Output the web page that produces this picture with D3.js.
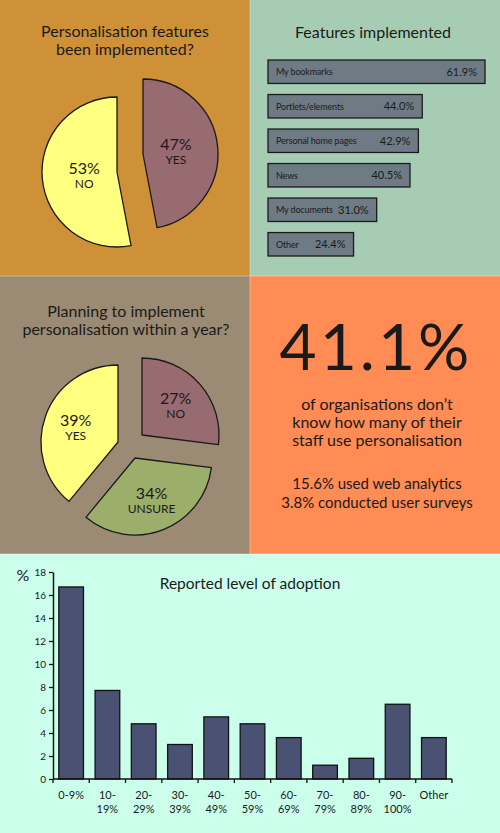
<!DOCTYPE html>
<html lang="en">
<head>
<meta charset="UTF-8">
<script src="https://d3js.org/d3.v7.min.js"></script>
<title>Personalisation survey</title>
<style>
  body { margin: 0; background: #fff; }
  svg { display: block; font-family: Lato, "Open Sans", sans-serif; }
  text { fill: #1a1a1a; }
</style>
</head>
<body>
<svg width="500" height="833"></svg>
<script>
// pie 1: have personalisation features been implemented?
var implLabels = ["YES", "NO"];
var implValues = [47, 53];

// bar list: features implemented (%)
var featureNames = ["My bookmarks", "Portlets/elements", "Personal home pages", "News", "My documents", "Other"];
var featureValues = [61.9, 44.0, 42.9, 40.5, 31.0, 24.4];

// pie 2: planning within a year?
var planLabels = ["NO", "UNSURE", "YES"];
var planValues = [27, 34, 39];

// headline stat
var headline = "41.1%";
var headlineLines = ["of organisations don\u2019t", "know how many of their", "staff use personalisation"];
var subLines = ["15.6% used web analytics", "3.8% conducted user surveys"];

// bottom chart: reported level of adoption (%)
var adoptionCats = ["0-9%", "10-|19%", "20-|29%", "30-|39%", "40-|49%", "50-|59%", "60-|69%", "70-|79%", "80-|89%", "90-|100%", "Other"];
var adoptionValues = [16.7, 7.7, 4.8, 3.0, 5.4, 4.8, 3.6, 1.2, 1.8, 6.5, 3.6];
var adoptionTicks = [0, 2, 4, 6, 8, 10, 12, 14, 16, 18];

var svg = d3.select("svg");

// background panels
var panels = [
  {x: 0, y: 0, w: 250, h: 276, fill: "#ce9137"},
  {x: 250, y: 0, w: 250, h: 276, fill: "#a6cdb3"},
  {x: 0, y: 276, w: 250, h: 278, fill: "#9b8b74"},
  {x: 250, y: 276, w: 250, h: 278, fill: "#ff8b55"},
  {x: 0, y: 554, w: 500, h: 279, fill: "#ccffeb"}
];
svg.selectAll("rect.panel").data(panels).enter().append("rect")
  .attr("class", "panel")
  .attr("x", d => d.x).attr("y", d => d.y)
  .attr("width", d => d.w).attr("height", d => d.h)
  .attr("fill", d => d.fill);
svg.append("line").attr("x1", 250).attr("x2", 250).attr("y1", 0).attr("y2", 554)
  .attr("stroke", "#fff").attr("stroke-opacity", 0.35);
svg.append("line").attr("x1", 0).attr("x2", 500).attr("y1", 276).attr("y2", 276)
  .attr("stroke", "#fff").attr("stroke-opacity", 0.35);
svg.append("line").attr("x1", 0).attr("x2", 500).attr("y1", 554).attr("y2", 554)
  .attr("stroke", "#fff").attr("stroke-opacity", 0.35);

function titleLines(lines, cx, y0, lh, size) {
  lines.forEach(function(t, i) {
    svg.append("text").attr("x", cx).attr("y", y0 + i * lh)
      .attr("text-anchor", "middle").attr("font-size", size).text(t);
  });
}

// exploded pie helper
function drawPie(labels, values, colours, cx, cy, r, offsets, labelR) {
  var pie = d3.pie().sort(null);
  var arc = d3.arc().innerRadius(0).outerRadius(r);
  var labelArc = d3.arc().innerRadius(labelR).outerRadius(labelR);
  var g = svg.append("g").attr("transform", "translate(" + cx + "," + cy + ")");
  var slices = g.selectAll("g.slice").data(pie(values)).enter().append("g")
    .attr("class", "slice")
    .attr("transform", (d, i) => "translate(" + offsets[i][0] + "," + offsets[i][1] + ")");
  slices.append("path").attr("d", arc)
    .attr("fill", (d, i) => colours[i])
    .attr("stroke", "#1a1a1a").attr("stroke-width", 1.3).attr("stroke-linejoin", "round");
  slices.each(function(d, i) {
    var c = labelArc.centroid(d);
    var s = d3.select(this);
    s.append("text").attr("x", c[0]).attr("y", c[1] - 1)
      .attr("text-anchor", "middle").attr("font-size", 16)
      .text(values[i] + "%");
    s.append("text").attr("x", c[0]).attr("y", c[1] + 13)
      .attr("text-anchor", "middle").attr("font-size", 12)
      .text(labels[i]);
  });
}

// ---- top-left pie
titleLines(["Personalisation features", "been implemented?"], 125, 37, 18, 16);
drawPie(implLabels, implValues, ["#986b70", "#ffff80"], 130, 163, 75, [[13, -9], [-13, 9]], 33);

// ---- top-right feature bars
titleLines(["Features implemented"], 373, 38, 18, 16);
var fx = d3.scaleLinear().domain([0, 61.9]).range([268, 485]);
var fy = d3.scaleBand().domain(featureNames).range([60, 256]).paddingInner(0.32).paddingOuter(0);
var fg = svg.append("g");
fg.selectAll("rect").data(featureNames).enter().append("rect")
  .attr("x", fx(0)).attr("y", d => fy(d))
  .attr("width", (d, i) => fx(featureValues[i]) - fx(0))
  .attr("height", fy.bandwidth())
  .attr("fill", "#6e7b84").attr("stroke", "#1a1a1a").attr("stroke-width", 1.3);
fg.selectAll("text.fname").data(featureNames).enter().append("text")
  .attr("class", "fname")
  .attr("x", fx(0) + 8).attr("y", d => fy(d) + fy.bandwidth() / 2 + 3.5)
  .attr("font-size", 9).attr("letter-spacing", -0.15).text(d => d);
fg.selectAll("text.fval").data(featureNames).enter().append("text")
  .attr("class", "fval")
  .attr("x", (d, i) => fx(featureValues[i]) - 8).attr("y", d => fy(d) + fy.bandwidth() / 2 + 4)
  .attr("text-anchor", "end").attr("font-size", 11)
  .text((d, i) => featureValues[i].toFixed(1) + "%");

// ---- middle-left pie
titleLines(["Planning to implement", "personalisation within a year?"], 126, 317, 18, 16);
drawPie(planLabels, planValues, ["#986b70", "#9bae6a", "#ffff80"], 130, 446, 77,
  [[12, -11], [5, 12], [-12, -4]], 45);

// ---- middle-right headline
svg.append("text").attr("x", 376).attr("y", 370).attr("text-anchor", "middle")
  .attr("font-size", 64).attr("letter-spacing", 3).text(headline);
titleLines(headlineLines, 377, 410, 18, 16);
titleLines(subLines, 377, 489, 19, 15);

// ---- bottom bar chart
var bx = d3.scaleBand().domain(adoptionCats).range([53, 452]).paddingInner(0.32).paddingOuter(0.16);
var by = d3.scaleLinear().domain([0, 18]).range([779, 572]);
var bg = svg.append("g");
bg.selectAll("rect").data(adoptionCats).enter().append("rect")
  .attr("x", d => bx(d)).attr("y", (d, i) => by(adoptionValues[i]))
  .attr("width", bx.bandwidth())
  .attr("height", (d, i) => by(0) - by(adoptionValues[i]))
  .attr("fill", "#4a5273").attr("stroke", "#111").attr("stroke-width", 1.3);

var yAxis = d3.axisLeft(by).tickValues(adoptionTicks).tickSize(4).tickSizeOuter(0);
var yg = svg.append("g").attr("transform", "translate(53,0)").call(yAxis);
yg.select(".domain").attr("stroke", "#111").attr("stroke-width", 1.5);
yg.selectAll(".tick line").attr("stroke", "#111").attr("stroke-width", 1.3);
yg.selectAll(".tick text").attr("font-size", 10).attr("font-family", "Lato, sans-serif").attr("fill", "#1a1a1a");

// x axis with ticks at band boundaries
var xg = svg.append("g").attr("transform", "translate(0,779)");
xg.append("line").attr("x1", 53).attr("x2", 452).attr("stroke", "#111").attr("stroke-width", 1.5);
var bounds = adoptionCats.map(d => bx(d) - bx.step() * bx.paddingInner() / 2).concat([452]);
xg.selectAll("line.tk").data(bounds).enter().append("line")
  .attr("class", "tk").attr("x1", d => d).attr("x2", d => d).attr("y1", 0).attr("y2", 4)
  .attr("stroke", "#111").attr("stroke-width", 1.3);
xg.selectAll("text").data(adoptionCats).enter().append("text")
  .attr("text-anchor", "middle").attr("font-size", 11)
  .each(function(d) {
    var t = d3.select(this);
    d.split("|").forEach(function(part, i) {
      t.append("tspan").attr("x", bx(d) + bx.bandwidth() / 2).attr("y", 20 + i * 14).text(part);
    });
  });

svg.append("text").attr("x", 23).attr("y", 581).attr("text-anchor", "middle")
  .attr("font-size", 16).text("%");
svg.append("text").attr("x", 250).attr("y", 589).attr("text-anchor", "middle")
  .attr("font-size", 15.5).text("Reported level of adoption");
</script>
</body>
</html>
